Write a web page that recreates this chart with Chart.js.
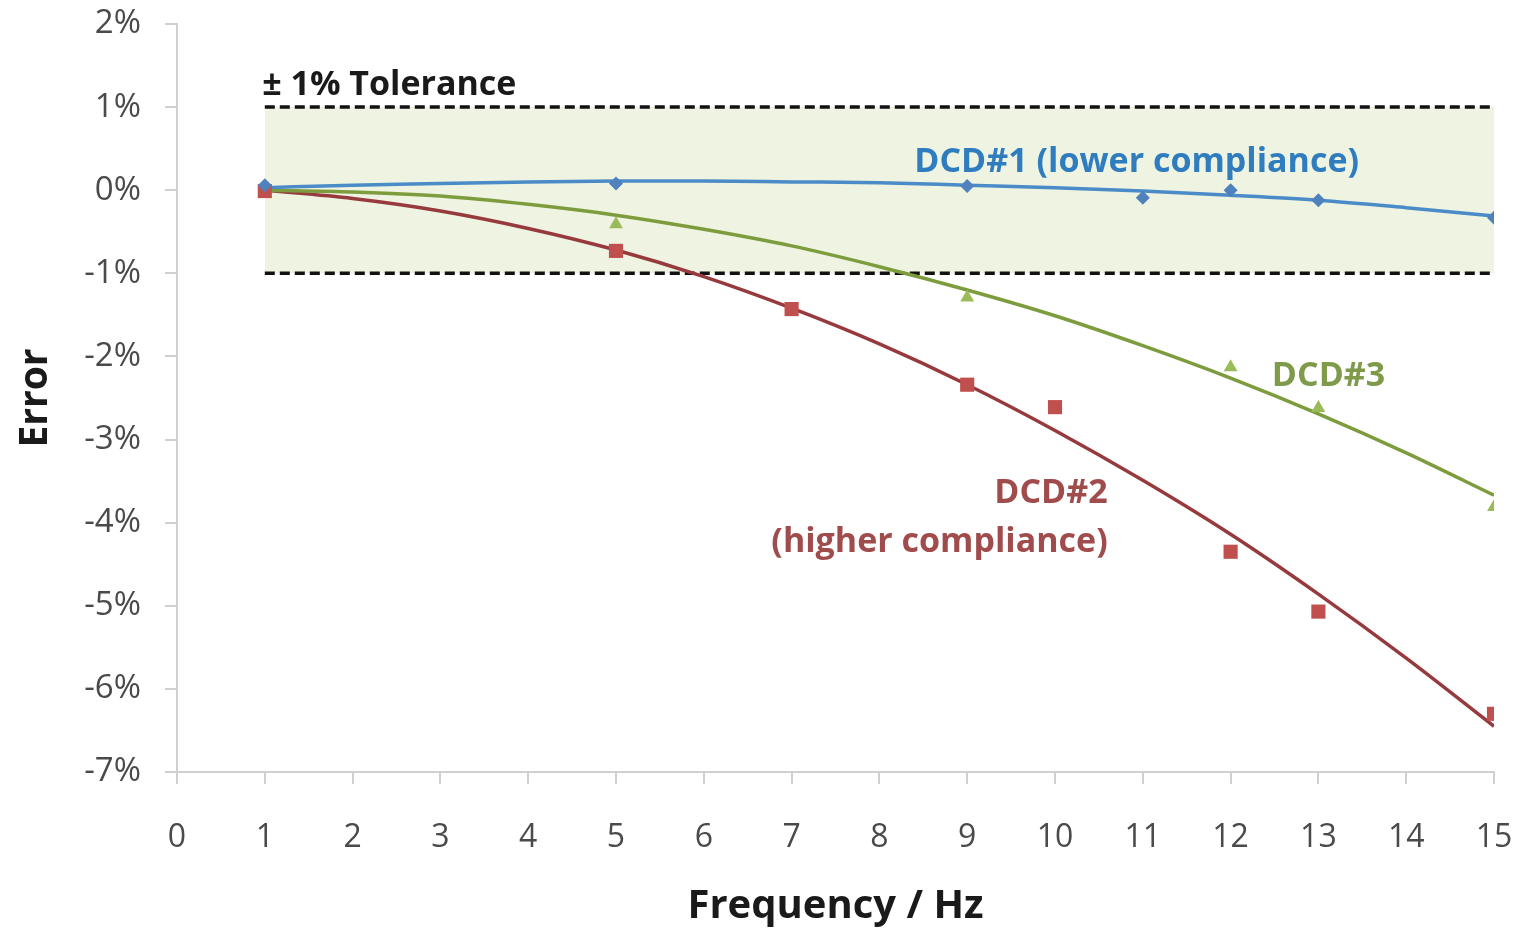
<!DOCTYPE html>
<html>
<head>
<meta charset="utf-8">
<script src="https://cdn.jsdelivr.net/npm/chart.js@4.4.0/dist/chart.umd.min.js"></script>
<style>
  html, body { margin: 0; padding: 0; background: #fff; }
  #wrap { width: 1519px; height: 931px; }
</style>
</head>
<body>
<div id="wrap"><canvas id="myChart" width="1519" height="931"></canvas></div>
<script>
// measured points
const dcd1X = [1, 5, 9, 11, 12, 13, 15];
const dcd1Y = [0.06, 0.08, 0.05, -0.09, 0.0, -0.12, -0.33];
const dcd2X = [1, 5, 7, 9, 10, 12, 13, 15];
const dcd2Y = [-0.01, -0.73, -1.43, -2.34, -2.61, -4.35, -5.07, -6.30];
const dcd3X = [1, 5, 9, 12, 13, 15];
const dcd3Y = [-0.03, -0.41, -1.29, -2.13, -2.62, -3.81];

// trendlines (at each Hz)
const trendX = [1, 2, 3, 4, 5, 6, 7, 8, 9, 10, 11, 12, 13, 14, 15];
const trend1 = [0.03, 0.06, 0.08, 0.10, 0.11, 0.11, 0.10, 0.09, 0.06, 0.03, -0.01, -0.06, -0.12, -0.21, -0.31];
const trend2 = [0, -0.10, -0.25, -0.46, -0.72, -1.04, -1.42, -1.85, -2.34, -2.89, -3.49, -4.14, -4.86, -5.63, -6.45];
const trend3 = [0, -0.02, -0.07, -0.17, -0.30, -0.47, -0.67, -0.92, -1.20, -1.51, -1.87, -2.26, -2.69, -3.16, -3.67];

// tolerance band
const tolX = [1, 15];
const tolUpper = [1, 1];
const tolLower = [-1, -1];

const yTicks = [2, 1, 0, -1, -2, -3, -4, -5, -6, -7];
const xTicks = [0, 1, 2, 3, 4, 5, 6, 7, 8, 9, 10, 11, 12, 13, 14, 15];

const pts = (xs, ys) => xs.map((x, i) => ({ x: x, y: ys[i] }));

const FONT = "'Open Sans', 'DejaVu Sans', sans-serif";

// text notes placed in data coordinates
const notes = [
  { text: "\u00b1 1% Tolerance", x: 0.97, y: 1.26, align: "left", color: "#1a1a1a", size: 34 },
  { text: "DCD#1 (lower compliance)", x: 10.93, y: 0.34, align: "center", color: "#2f7dbf", size: 34 },
  { text: "DCD#3", x: 12.47, y: -2.24, align: "left", color: "#7f9a4a", size: 34 },
  { text: "DCD#2", x: 10.6, y: -3.65, align: "right", color: "#a04c4c", size: 34 },
  { text: "(higher compliance)", x: 10.6, y: -4.24, align: "right", color: "#a04c4c", size: 34 },
];

const notesPlugin = {
  id: "notes",
  afterDatasetsDraw(chart) {
    const ctx = chart.ctx;
    const xs = chart.scales.x;
    const ys = chart.scales.y;
    ctx.save();
    ctx.textBaseline = "middle";
    notes.forEach((n) => {
      ctx.font = "bold " + n.size + "px " + FONT;
      ctx.fillStyle = n.color;
      ctx.textAlign = n.align;
      ctx.fillText(n.text, xs.getPixelForValue(n.x), ys.getPixelForValue(n.y));
    });
    ctx.restore();
  },
};

const ctx = document.getElementById("myChart").getContext("2d");
new Chart(ctx, {
  type: "scatter",
  data: {
    datasets: [
      {
        label: "upper",
        data: pts(tolX, tolUpper),
        showLine: true,
        fill: "+1",
        backgroundColor: "#eef4e1",
        borderColor: "#111",
        borderWidth: 3.5,
        borderDash: [10, 5],
        pointRadius: 0,
        order: 10,
      },
      {
        label: "lower",
        data: pts(tolX, tolLower),
        showLine: true,
        fill: false,
        borderColor: "#111",
        borderWidth: 3.5,
        borderDash: [10, 5],
        pointRadius: 0,
        order: 9,
      },
      {
        label: "trend1",
        data: pts(trendX, trend1),
        showLine: true,
        cubicInterpolationMode: "monotone",
        borderColor: "#4b8cc8",
        borderWidth: 3.5,
        pointRadius: 0,
        order: 5,
      },
      {
        label: "trend3",
        data: pts(trendX, trend3),
        showLine: true,
        cubicInterpolationMode: "monotone",
        borderColor: "#7d9c3d",
        borderWidth: 3.5,
        pointRadius: 0,
        order: 5,
      },
      {
        label: "trend2",
        data: pts(trendX, trend2),
        showLine: true,
        cubicInterpolationMode: "monotone",
        borderColor: "#963a3e",
        borderWidth: 3.5,
        pointRadius: 0,
        order: 5,
      },
      {
        label: "DCD#1",
        data: pts(dcd1X, dcd1Y),
        pointStyle: "rectRot",
        pointRadius: 7,
        backgroundColor: "#4f81bd",
        borderColor: "#4f81bd",
        borderWidth: 0,
        order: 1,
      },
      {
        label: "DCD#2",
        data: pts(dcd2X, dcd2Y),
        pointStyle: "rect",
        pointRadius: 10,
        backgroundColor: "#c0504d",
        borderColor: "#c0504d",
        borderWidth: 0,
        order: 1,
      },
      {
        label: "DCD#3",
        data: pts(dcd3X, dcd3Y),
        pointStyle: "triangle",
        pointRadius: 8,
        backgroundColor: "#9bbb59",
        borderColor: "#9bbb59",
        borderWidth: 0,
        order: 1,
      },
    ],
  },
  options: {
    responsive: false,
    animation: false,
    layout: { padding: { top: 24, right: 25, left: 0, bottom: 0 } },
    plugins: {
      legend: { display: false },
      tooltip: { enabled: false },
    },
    scales: {
      x: {
        type: "linear",
        min: 0,
        max: 15,
        afterBuildTicks: (s) => { s.ticks = xTicks.map((v) => ({ value: v })); },
        afterFit: (s) => {
          s.height = 159;
          s.paddingLeft = 0;
          s.paddingRight = 0;
        },
        ticks: {
          color: "#4a4a4a",
          font: { family: FONT, size: 32 },
          padding: 35,
          maxRotation: 0,
        },
        grid: {
          drawOnChartArea: false,
          drawTicks: true,
          tickLength: 12,
          color: "#d0d0d0",
          lineWidth: 2,
        },
        border: { color: "#d0d0d0", width: 2 },
        title: {
          display: true,
          text: "Frequency / Hz",
          color: "#1a1a1a",
          font: { family: FONT, size: 40, weight: "bold" },
          padding: { top: 0, bottom: 0 },
        },
      },
      y: {
        type: "linear",
        min: -7,
        max: 2,
        afterBuildTicks: (s) => { s.ticks = yTicks.map((v) => ({ value: v })); },
        afterFit: (s) => {
          s.width = 177;
          s.paddingTop = 0;
          s.paddingBottom = 0;
        },
        ticks: {
          color: "#4a4a4a",
          font: { family: FONT, size: 33 },
          padding: 24,
          callback: (v) => v + "%",
        },
        grid: {
          drawOnChartArea: false,
          drawTicks: true,
          tickLength: 12,
          color: "#d0d0d0",
          lineWidth: 2,
        },
        border: { color: "#d0d0d0", width: 2 },
        title: {
          display: true,
          text: "Error",
          color: "#1a1a1a",
          font: { family: FONT, size: 39, weight: "bold" },
          padding: { top: 12, bottom: 0 },
        },
      },
    },
  },
  plugins: [notesPlugin],
});
</script>
</body>
</html>
